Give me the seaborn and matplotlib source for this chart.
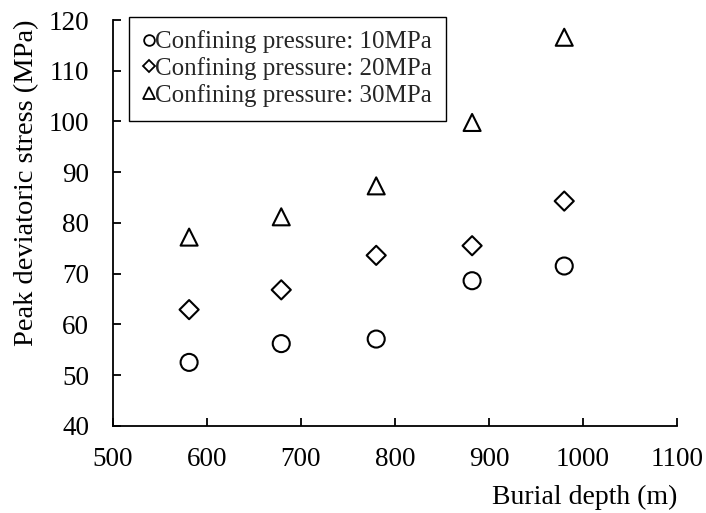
import matplotlib
matplotlib.use("Agg")
import matplotlib.pyplot as plt
import seaborn as sns
import pandas as pd
from matplotlib.lines import Line2D

depth = [581, 679, 780, 882, 980]
p10 = [52.5, 56.2, 57.1, 68.6, 71.5]
p20 = [62.9, 66.8, 73.6, 75.5, 84.3]
p30 = [77.2, 81.2, 87.3, 99.8, 116.6]
labels = ["Confining pressure: 10MPa", "Confining pressure: 20MPa", "Confining pressure: 30MPa"]
markers = ["o", "D", "^"]

sns.set_theme(style="ticks")
plt.rcParams["font.family"] = ["Liberation Serif", "DejaVu Serif"]

fig = plt.figure(figsize=(7.06, 5.13), dpi=100)
ax = fig.add_axes([0.160, 0.170, 0.799, 0.791])

series = [p10, p20, p30]
sizes = [150, 95, 150]
for vals, m, s in zip(series, markers, sizes):
    df = pd.DataFrame({"depth": depth, "stress": vals})
    sns.scatterplot(data=df, x="depth", y="stress", marker=m, s=s,
                    facecolors="none", edgecolor="black", linewidth=1.5,
                    ax=ax, legend=False, zorder=3)

ax.set_xlim(500, 1100)
ax.set_ylim(40, 120)
ax.set_xticks(range(500, 1101, 100))
ax.set_yticks(range(40, 121, 10))
for sp in ["top", "right"]:
    ax.spines[sp].set_visible(False)
for sp in ["left", "bottom"]:
    ax.spines[sp].set_linewidth(1.3)
    ax.spines[sp].set_color("black")
ax.tick_params(axis="both", direction="in", length=5.5, width=1.3, labelsize=19.5,
               colors="black")
ax.tick_params(axis="y", pad=17)
ax.tick_params(axis="x", pad=15)

ax.set_xlabel("Burial depth (m)", fontsize=20, color="black")
ax.xaxis.set_label_coords(1.0, -0.146)
ax.xaxis.label.set_horizontalalignment("right")
ax.set_ylabel("Peak deviatoric stress (MPa)", fontsize=20.5, color="black")
ax.yaxis.set_label_coords(-0.131, 0.598)

handles = [Line2D([0], [0], marker=m, linestyle="none", markerfacecolor="none",
                  markeredgecolor="black", markeredgewidth=1.3, markersize=ms)
           for m, ms in zip(markers, [7.7, 6.3, 8.8])]
leg = ax.legend(handles, labels, loc="upper left", bbox_to_anchor=(0.028, 1.008),
                borderaxespad=0, frameon=True, fancybox=False, framealpha=1,
                edgecolor="black", fontsize=18, handlelength=0.5,
                handletextpad=0.0, borderpad=0.55, labelspacing=0.15)
leg.get_frame().set_linewidth(1.0)

fig.savefig("out.png", dpi=100)
